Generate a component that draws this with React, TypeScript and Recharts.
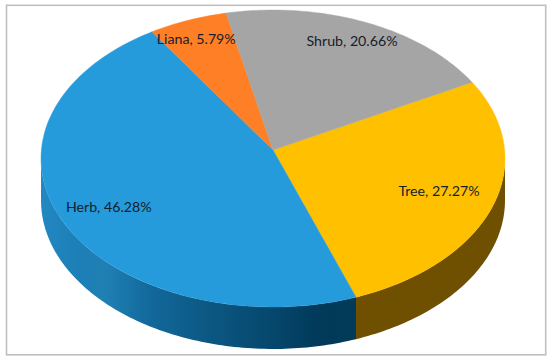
import React from 'react';
import { PieChart, Pie, Cell } from 'recharts';

const categories = ['Tree', 'Herb', 'Liana', 'Shrub'];
const shares = [27.27, 46.28, 5.79, 20.66];
const topColors = ['#FFC000', '#259BDB', '#FF7F27', '#A5A5A5'];
const sideColors = ['#6F4F00', 'url(#herbWall)', '#A0561C', '#6E6E6E'];
const labelReach = [0.75, 0.77, 0.83, 0.85];
const labelShiftX = [0.5, -0.5, -6, 0.5];
const labelShiftY = [0, 4, -4, -1];

const rows = categories.map((name, i) => ({ name, share: shares[i] }));

const CX = 273;
const CY = 150;
const RX = 231.6;
const SQUASH = 148 / 231.6;
const PERSPECTIVE = 0.0572;
const DEPTH = 42;
const START = 28;
const EDGE = (Math.acos(-PERSPECTIVE) * 180) / Math.PI;

// angle: Recharts degrees (counter-clockwise from 3 o'clock)
const project = (angle: number, cx: number, cy: number, r: number, depth = 0) => {
  const t = ((90 - angle) * Math.PI) / 180;
  const w = 1 + PERSPECTIVE * Math.cos(t);
  return [cx + (r * Math.sin(t)) / w, cy + depth - (r * SQUASH * Math.cos(t)) / w];
};

const sample = (from: number, to: number, cx: number, cy: number, r: number, depth = 0) => {
  const pts: string[] = [];
  const n = Math.max(2, Math.ceil(Math.abs(to - from)));
  for (let i = 0; i <= n; i++) {
    const p = project(from + ((to - from) * i) / n, cx, cy, r, depth);
    pts.push(`${p[0].toFixed(2)} ${p[1].toFixed(2)}`);
  }
  return pts;
};

const TopFace = (p: any) => {
  const pts = sample(p.startAngle, p.endAngle, p.cx, p.cy, p.outerRadius);
  return <path d={`M${p.cx} ${p.cy}L${pts.join('L')}Z`} fill={p.fill} stroke={p.fill} strokeWidth={0.4} />;
};

const Wall = (p: any) => {
  // clockwise position from 12 o'clock; only the front half of the rim shows
  const a = 90 - p.startAngle;
  const b = 90 - p.endAngle;
  const lo = Math.max(a, EDGE);
  const hi = Math.min(b, 360 - EDGE);
  if (hi <= lo) return <g />;
  const upper = sample(90 - lo, 90 - hi, p.cx, p.cy, p.outerRadius);
  const lower = sample(90 - hi, 90 - lo, p.cx, p.cy, p.outerRadius, DEPTH);
  return <path d={`M${upper.join('L')}L${lower.join('L')}Z`} fill={p.fill} />;
};

const renderLabel = (p: any) => {
  const q = project(p.midAngle, p.cx, p.cy, p.outerRadius);
  const f = labelReach[p.index];
  const x = p.cx + (q[0] - p.cx) * f + labelShiftX[p.index];
  const y = p.cy + (q[1] - p.cy) * f + labelShiftY[p.index];
  return (
    <text
      key={p.index}
      x={x}
      y={y}
      textAnchor="middle"
      dominantBaseline="central"
      fontFamily="Lato, sans-serif"
      fontSize={14.2}
      fill="#15202B"
    >
      {`${p.name}, ${p.value.toFixed(2)}%`}
    </text>
  );
};

export default function App() {
  return (
    <div style={{ position: 'fixed', left: 0, top: 0, width: 550, height: 362, background: '#fff' }}>
      <svg width={550} height={362} style={{ position: 'absolute', left: 0, top: 0 }}>
        <rect x={6.5} y={5.3} width={539.2} height={349.5} fill="none" stroke="#BFBFBF" strokeWidth={1.6} />
      </svg>
      <div style={{ position: 'absolute', left: 0, top: 0 }}>
        <PieChart width={550} height={362} margin={{ top: 0, right: 0, bottom: 0, left: 0 }}>
          <defs>
            <linearGradient id="herbWall" gradientUnits="userSpaceOnUse" x1={41} y1={0} x2={356} y2={0}>
              <stop offset="0" stopColor="#2288C2" />
              <stop offset="0.12" stopColor="#1C7FB6" />
              <stop offset="0.2" stopColor="#2080B4" />
              <stop offset="0.35" stopColor="#12689A" />
              <stop offset="0.55" stopColor="#0B5680" />
              <stop offset="0.75" stopColor="#05466B" />
              <stop offset="0.88" stopColor="#013A5A" />
              <stop offset="1" stopColor="#023A58" />
            </linearGradient>
          </defs>
          <Pie
            data={rows}
            dataKey="share"
            nameKey="name"
            cx={CX}
            cy={CY}
            innerRadius={0}
            outerRadius={RX}
            startAngle={START}
            endAngle={START - 360}
            stroke="none"
            isAnimationActive={false}
            shape={Wall}
          >
            {rows.map((r, i) => (
              <Cell key={r.name} fill={sideColors[i]} />
            ))}
          </Pie>
          <Pie
            data={rows}
            dataKey="share"
            nameKey="name"
            cx={CX}
            cy={CY}
            innerRadius={0}
            outerRadius={RX}
            startAngle={START}
            endAngle={START - 360}
            stroke="none"
            isAnimationActive={false}
            shape={TopFace}
            label={renderLabel}
            labelLine={false}
          >
            {rows.map((r, i) => (
              <Cell key={r.name} fill={topColors[i]} />
            ))}
          </Pie>
        </PieChart>
      </div>
    </div>
  );
}
